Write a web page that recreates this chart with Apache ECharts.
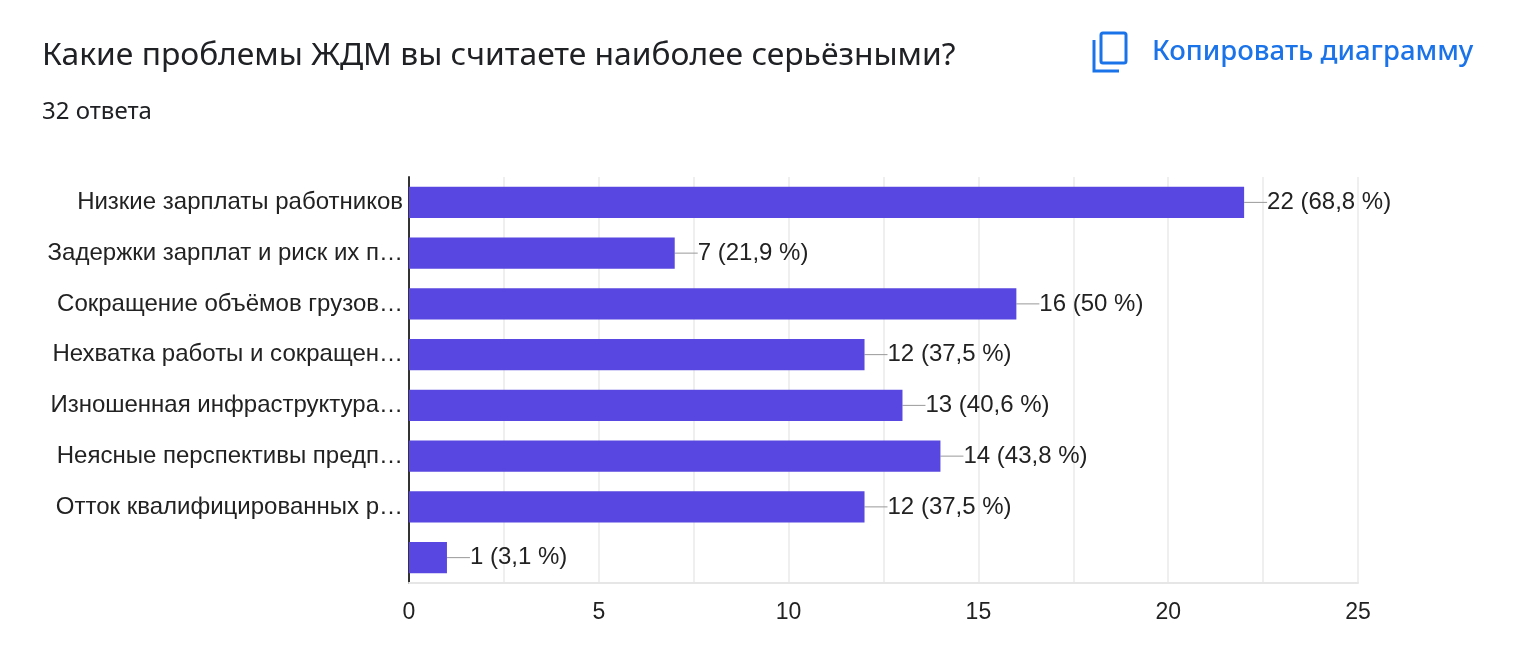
<!DOCTYPE html>
<html>
<head>
<meta charset="utf-8">
<script src="https://cdn.jsdelivr.net/npm/echarts@6/dist/echarts.min.js"></script>
<style>
	html, body { margin: 0; padding: 0; background: #fff; }
	#chart { width: 1520px; height: 670px; }
</style>
</head>
<body>
<div id="chart"></div>
<script>
var categories = [
	"Низкие зарплаты работников",
	"Задержки зарплат и риск их п…",
	"Сокращение объёмов грузов…",
	"Нехватка работы и сокращен…",
	"Изношенная инфраструктура…",
	"Неясные перспективы предп…",
	"Отток квалифицированных р…",
	""
];
var counts = [22, 7, 16, 12, 13, 14, 12, 1];
var percents = ["68,8", "21,9", "50", "37,5", "40,6", "43,8", "37,5", "3,1"];
var totalAnswers = 32;

var blue = "#1a73e8",
	barColor = "#5847e0",
	labelFont = "Liberation Sans",
	chart = echarts.init(document.getElementById("chart"), null, { renderer: "canvas" }),
	option;

option = {
	animation: false,
	graphic: [
		{
			type: "text",
			style: {
				x: 42, y: 56,
				text: "Какие проблемы ЖДМ вы считаете наиболее серьёзными?",
				font: "31.8px 'Noto Sans'",
				fill: "#202124",
				verticalAlign: "middle"
			}
		},
		{
			type: "text",
			style: {
				x: 42, y: 112,
				text: totalAnswers + " ответа",
				font: "24px 'Noto Sans'",
				fill: "#202124",
				verticalAlign: "middle"
			}
		},
		{
			type: "rect",
			shape: { x: 1101, y: 33, width: 25, height: 30, r: 2 },
			style: { fill: "none", stroke: blue, lineWidth: 3 }
		},
		{
			type: "polyline",
			shape: { points: [[1094, 40], [1094, 71], [1119, 71]] },
			style: { fill: "none", stroke: blue, lineWidth: 3 }
		},
		{
			type: "text",
			style: {
				x: 1152, y: 52,
				text: "Копировать диаграмму",
				font: "500 27.5px 'Noto Sans'",
				fill: blue,
				verticalAlign: "middle"
			}
		}
	],
	grid: {
		left: 409,
		right: 162,
		top: 177,
		bottom: 87,
		containLabel: false
	},
	xAxis: {
		type: "value",
		min: 0,
		max: 25,
		interval: 5,
		axisLine: { show: true, lineStyle: { color: "#e6e6e6", width: 2 } },
		axisTick: { show: false },
		axisLabel: {
			margin: 18,
			fontFamily: labelFont,
			fontSize: 23,
			color: "#222"
		},
		splitLine: { show: true, lineStyle: { color: "#efefef", width: 2 } },
		minorTick: { show: false, splitNumber: 2 },
		minorSplitLine: { show: true, lineStyle: { color: "#efefef", width: 2 } }
	},
	yAxis: {
		type: "category",
		inverse: true,
		data: categories,
		axisLine: { show: true, lineStyle: { color: "#333", width: 2 } },
		axisTick: { show: false },
		axisLabel: {
			margin: 6,
			fontFamily: labelFont,
			fontSize: 24,
			color: "#222"
		}
	},
	series: [
		{
			type: "bar",
			data: counts,
			barCategoryGap: "38%",
			itemStyle: { color: barColor },
			label: {
				show: true,
				position: "right",
				distance: 0,
				fontFamily: labelFont,
				fontSize: 24,
				color: "#222",
				formatter: function (p) {
					return p.value + " (" + percents[p.dataIndex] + " %)";
				}
			},
			labelLayout: { dx: 23 },
			labelLine: {
				show: true,
				lineStyle: { color: "#999", width: 1 }
			}
		}
	]
};

chart.setOption(option);
</script>
</body>
</html>
